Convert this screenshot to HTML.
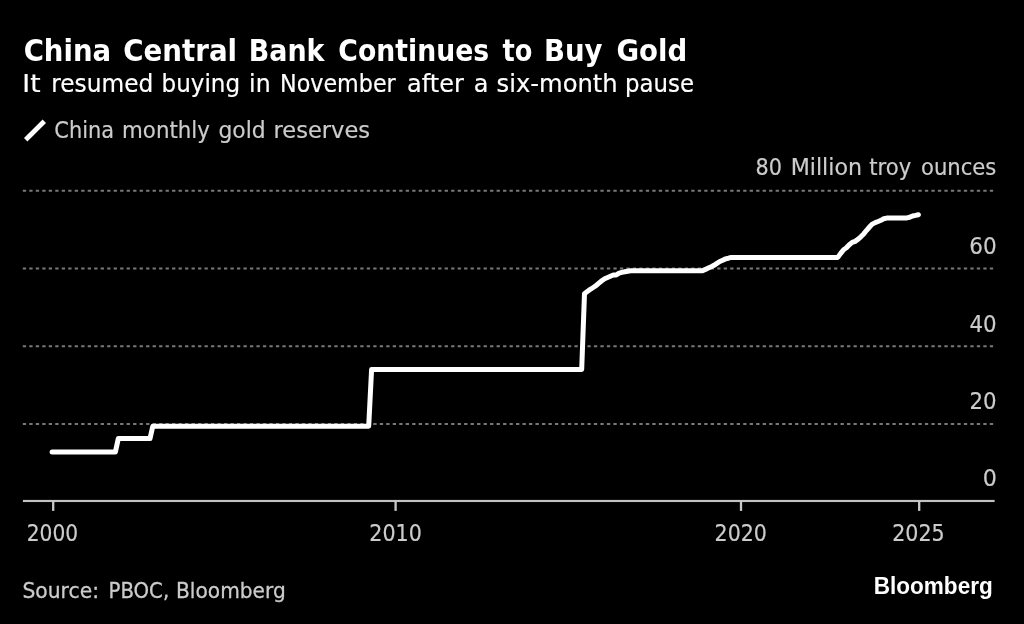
<!DOCTYPE html>
<html lang="en">
<head>
<meta charset="utf-8">
<title>China Central Bank Continues to Buy Gold</title>
<style>
html,body{margin:0;padding:0;background:#000;}
body{width:1024px;height:624px;overflow:hidden;}
svg{display:block;}
text{font-family:"DejaVu Sans","Liberation Sans",sans-serif;white-space:pre;}
.t{fill:#fff;font-weight:bold;}
.s{fill:#fff;stroke:#fff;stroke-width:0.2px;}
.g{fill:#ccc;stroke:#ccc;stroke-width:0.2px;}
.g2{stroke-width:0.3px;}
.logo{font-family:"Liberation Sans","DejaVu Sans",sans-serif;font-weight:bold;fill:#fff;}
</style>
</head>
<body>
<svg width="1024" height="624" viewBox="0 0 1024 624">
<rect width="1024" height="624" fill="#000"/>
<line x1="25.7" y1="139.7" x2="44.3" y2="121.2" stroke="#fff" stroke-width="4.8"/>
<g stroke="#787878" stroke-width="2" stroke-dasharray="3.3 3.19" fill="none">
<line x1="22.8" x2="994" y1="190.70" y2="190.70"/>
<line x1="22.8" x2="994" y1="268.50" y2="268.50"/>
<line x1="22.8" x2="994" y1="346.20" y2="346.20"/>
<line x1="22.8" x2="994" y1="423.90" y2="423.90"/>
</g>
<rect x="22.9" y="499.9" width="971.7" height="2.15" fill="#c2c2c2"/>
<g fill="#c9c9c9">
<rect x="52.05" y="501" width="2.3" height="9.9"/>
<rect x="394.45" y="501" width="2.3" height="9.9"/>
<rect x="739.85" y="501" width="2.3" height="9.9"/>
<rect x="918.05" y="501" width="2.3" height="9.9"/>
</g>
<path d="M52.1 451.9 L115.4 451.9 L118.3 438.6 L150.0 438.6 L152.8 426.2 L368.7 426.2 L371.6 369.4 L581.7 369.4 L584.5 293.7 L587.4 291.4 L590.3 289.3 L593.2 287.5 L596.0 285.7 L598.9 283.1 L601.8 280.7 L604.7 278.7 L607.6 277.5 L610.4 276.3 L613.3 275.0 L616.2 275.0 L619.1 273.1 L621.9 272.4 L624.8 271.8 L627.7 271.2 L630.6 270.7 L702.5 270.7 L705.4 269.4 L708.3 268.0 L711.2 266.7 L714.0 265.3 L716.9 263.4 L719.8 261.5 L722.7 260.2 L725.6 258.9 L728.4 258.2 L731.3 257.4 L837.8 257.4 L840.7 253.4 L843.6 249.7 L846.4 247.8 L849.3 244.7 L852.2 242.4 L855.1 241.4 L857.9 239.4 L860.8 236.8 L863.7 233.9 L866.6 230.3 L869.5 227.0 L872.3 224.1 L875.2 222.6 L878.1 221.5 L881.0 220.3 L883.8 218.7 L886.7 218.1 L889.6 217.9 L906.9 217.9 L909.7 217.3 L912.6 216.0 L915.5 215.4 L918.4 214.7" fill="none" stroke="#fff" stroke-width="5" stroke-linecap="round" stroke-linejoin="round"/>
<text class="t" font-size="30" y="60.80"><tspan x="23.64" textLength="87.52" lengthAdjust="spacingAndGlyphs">China</tspan> <tspan x="123.24" textLength="113.82" lengthAdjust="spacingAndGlyphs">Central</tspan> <tspan x="248.73" textLength="75.77" lengthAdjust="spacingAndGlyphs">Bank</tspan> <tspan x="338.35" textLength="150.89" lengthAdjust="spacingAndGlyphs">Continues</tspan> <tspan x="502.46" textLength="29.88" lengthAdjust="spacingAndGlyphs">to</tspan> <tspan x="543.90" textLength="58.60" lengthAdjust="spacingAndGlyphs">Buy</tspan> <tspan x="616.44" textLength="70.83" lengthAdjust="spacingAndGlyphs">Gold</tspan></text>
<text class="s" font-size="24.5" y="92.40"><tspan x="22.39" textLength="18.21" lengthAdjust="spacingAndGlyphs">It</tspan> <tspan x="51.18" textLength="102.09" lengthAdjust="spacingAndGlyphs">resumed</tspan> <tspan x="161.57" textLength="78.57" lengthAdjust="spacingAndGlyphs">buying</tspan> <tspan x="249.10" textLength="21.51" lengthAdjust="spacingAndGlyphs">in</tspan> <tspan x="280.02" textLength="115.73" lengthAdjust="spacingAndGlyphs">November</tspan> <tspan x="407.10" textLength="56.66" lengthAdjust="spacingAndGlyphs">after</tspan> <tspan x="473.80" textLength="14.68" lengthAdjust="spacingAndGlyphs">a</tspan> <tspan x="496.55" textLength="121.16" lengthAdjust="spacingAndGlyphs">six-month</tspan> <tspan x="625.00" textLength="69.00" lengthAdjust="spacingAndGlyphs">pause</tspan></text>
<text class="g" font-size="23" y="138.00"><tspan x="54.30" textLength="59.74" lengthAdjust="spacingAndGlyphs">China</tspan> <tspan x="122.06" textLength="87.83" lengthAdjust="spacingAndGlyphs">monthly</tspan> <tspan x="218.50" textLength="47.14" lengthAdjust="spacingAndGlyphs">gold</tspan> <tspan x="273.50" textLength="96.50" lengthAdjust="spacingAndGlyphs">reserves</tspan></text>
<text class="g" font-size="23.3" y="174.60"><tspan x="755.57" textLength="26.45" lengthAdjust="spacingAndGlyphs">80</tspan> <tspan x="790.68" textLength="71.30" lengthAdjust="spacingAndGlyphs">Million</tspan> <tspan x="869.33" textLength="41.94" lengthAdjust="spacingAndGlyphs">troy</tspan> <tspan x="921.02" textLength="75.38" lengthAdjust="spacingAndGlyphs">ounces</tspan></text>
<text class="g" font-size="22.9" y="253.85"><tspan x="969.21" textLength="27.43" lengthAdjust="spacingAndGlyphs">60</tspan></text>
<text class="g" font-size="22.9" y="331.75"><tspan x="969.42" textLength="27.19" lengthAdjust="spacingAndGlyphs">40</tspan></text>
<text class="g" font-size="22.9" y="409.45"><tspan x="969.51" textLength="27.13" lengthAdjust="spacingAndGlyphs">20</tspan></text>
<text class="g" font-size="22.9" y="486.30"><tspan x="982.76" textLength="14.12" lengthAdjust="spacingAndGlyphs">0</tspan></text>
<text class="g" font-size="22.9" x="26.76" y="541.30" textLength="51.38" lengthAdjust="spacingAndGlyphs">2000</text>
<text class="g" font-size="22.9" x="369.31" y="541.30" textLength="52.54" lengthAdjust="spacingAndGlyphs">2010</text>
<text class="g" font-size="22.9" x="714.60" y="541.30" textLength="52.34" lengthAdjust="spacingAndGlyphs">2020</text>
<text class="g" font-size="22.9" x="892.19" y="541.30" textLength="52.48" lengthAdjust="spacingAndGlyphs">2025</text>
<text class="g g2" font-size="21.7" y="597.75"><tspan x="22.49" textLength="76.48" lengthAdjust="spacingAndGlyphs">Source:</tspan> <tspan x="108.55" textLength="60.61" lengthAdjust="spacingAndGlyphs">PBOC,</tspan> <tspan x="176.04" textLength="109.72" lengthAdjust="spacingAndGlyphs">Bloomberg</tspan></text>
<text class="logo" font-size="24.7" y="594.10"><tspan x="873.70" textLength="119.05" lengthAdjust="spacingAndGlyphs">Bloomberg</tspan></text>
</svg>
</body>
</html>
